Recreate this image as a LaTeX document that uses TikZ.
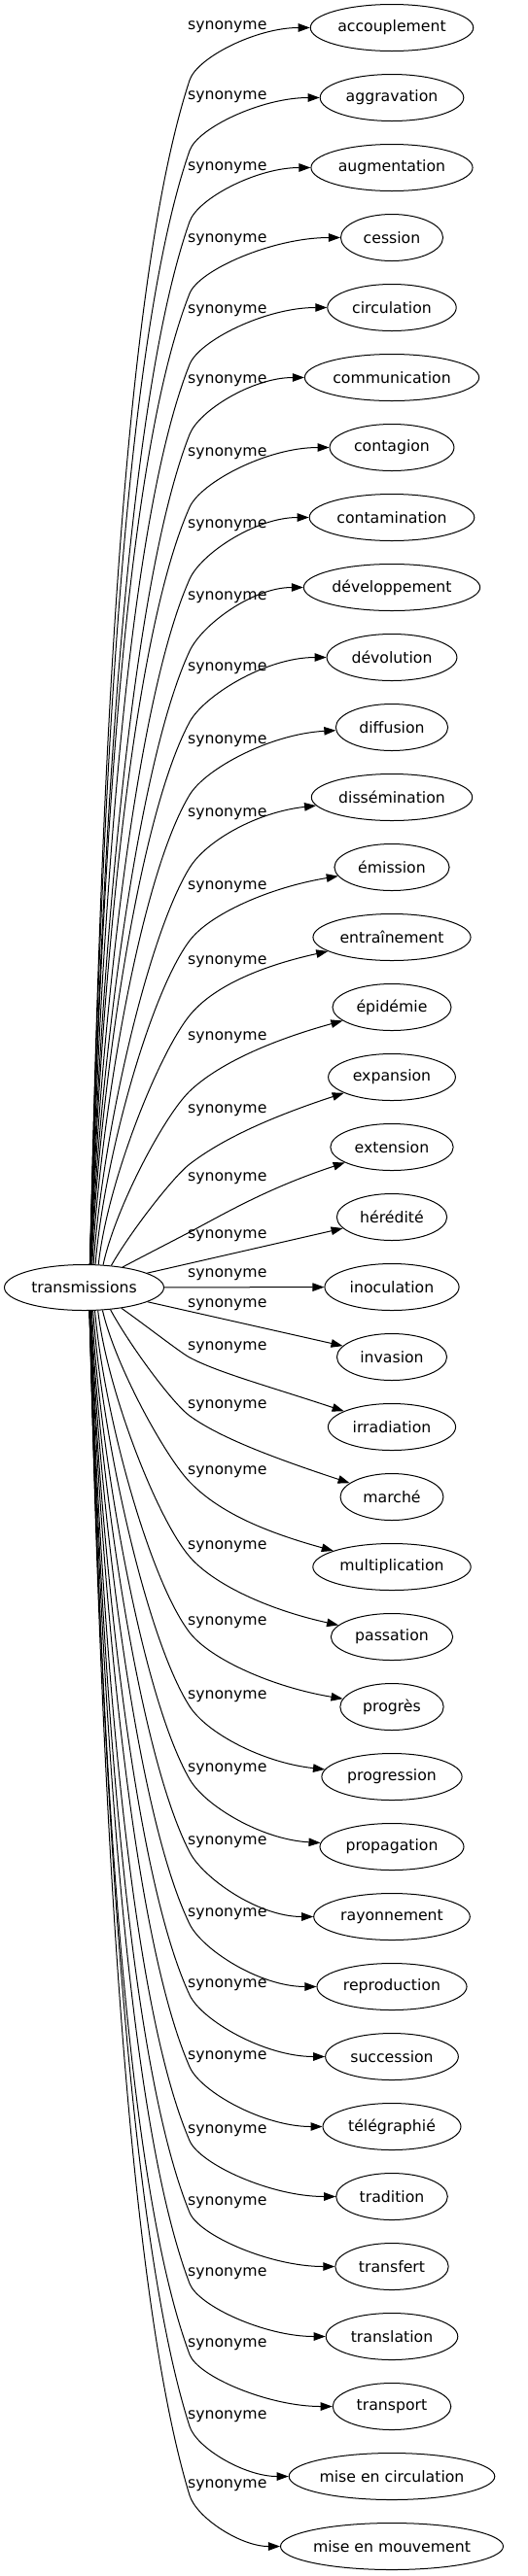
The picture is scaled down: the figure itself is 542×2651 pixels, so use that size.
\documentclass[tikz,border=0pt]{standalone}
\usepackage{fontspec}
\setmainfont{DejaVu Sans}
\usetikzlibrary{shapes.geometric,arrows.meta}
\begin{document}
\begin{tikzpicture}[x=1pt,y=-1pt,
  every node/.style={font=\fontsize{15.7}{18}\selectfont},
  word/.style={ellipse,draw,line width=1pt,inner sep=0pt,minimum height=48pt},
  lab/.style={anchor=west,inner sep=0pt},
  edge/.style={line width=1pt,-{Triangle[length=12pt,width=8.5pt]}}]
\fontsize{15.7}{18}\selectfont
\useasboundingbox (0,0) rectangle (542,2651);
\pgfmathsetmacro\sw{1.18*width("transmissions")+36}
\node[word,minimum width=\sw,minimum height=47pt] (s) at (86.5,1325) {transmissions};
\foreach \i/\nm/\ly in {0/accouplement/27.5, 1/aggravation/100, 2/augmentation/173,
  3/cession/247, 4/circulation/320, 5/communication/392, 6/contagion/467,
  7/contamination/541, 8/développement/615, 9/dévolution/688, 10/diffusion/763,
  11/dissémination/838, 12/émission/913, 13/entraînement/990, 14/épidémie/1068,
  15/expansion/1143, 16/extension/1213, 17/hérédité/1272, 18/inoculation/1312,
  19/invasion/1343, 20/irradiation/1387, 21/marché/1447, 22/multiplication/1515,
  23/passation/1592, 24/progrès/1670, 25/progression/1746, 26/propagation/1821,
  27/rayonnement/1896, 28/reproduction/1970, 29/succession/2043, 30/télégraphié/2117,
  31/tradition/2193, 32/transfert/2267, 33/translation/2340, 34/transport/2413,
  35/mise en circulation/2487, 36/mise en mouvement/2558}{
  \pgfmathsetmacro\ty{28.5+72*\i}
  \pgfmathsetmacro\ew{1.18*width("\nm")+36}
  \node[word,minimum width=\ew] (t\i) at (403,\ty) {\nm};
  \node[lab] (l\i) at (193,\ly) {synonyme};
  \pgfmathtruncatemacro\k{abs(\i-18)}
  \ifnum\k<2
    \draw[edge] (s) -- (t\i);
  \else
    \pgfmathsetmacro\sg{(\i<18)*(-2)+1}
    \pgfmathsetmacro\xs{92+33*exp(-(\k-2)*0.45)}
    \pgfmathsetmacro\uu{(\xs-86.5)/81.5}
    \pgfmathsetmacro\dys{23.5*sqrt(1-\uu*\uu)}
    \pgfmathsetmacro\sy{1325+\sg*\dys}
    \pgfmathsetmacro\tha{atan2(\dys,\xs-86.5)}
    \pgfmathtruncatemacro\ang{(\sg<0)*\tha+(\sg>0)*(360-\tha)}
    \pgfmathsetmacro\ky{\ly+(\sg<0)*55+(\sg>0)*10}
    \pgfmathsetmacro\dD{abs(\sy-\ky)}
    \pgfmathsetmacro\ff{max(0.3,min(1,80/\dD))}
    \pgfmathsetmacro\cax{\xs+0.33*(195-\xs)*\ff}
    \pgfmathsetmacro\cay{\sy+0.33*(\ky-\sy)}
    \pgfmathsetmacro\wx{403-\ew/2}
    \pgfmathsetmacro\slo{(\wx-\xs)/abs(\ty-\sy)+0.15}
    \pgfmathsetmacro\nn{sqrt(\slo*\slo+1)}
    \pgfmathsetmacro\tx{\slo/\nn}
    \pgfmathsetmacro\tyy{\sg/\nn}
    \pgfmathsetmacro\cbx{195-\tx*0.2*\dD}
    \pgfmathsetmacro\cby{\ky-\tyy*0.2*\dD}
    \pgfmathsetmacro\dd{0.45*abs(\ky-\ty)}
    \pgfmathsetmacro\ccx{195+\tx*\dd}
    \pgfmathsetmacro\ccy{\ky+\tyy*\dd}
    \pgfmathsetmacro\cdx{\wx-0.45*(\wx-195)}
    \pgfmathsetmacro\sk{0.33*min(1,max(0,(9-\k)/6))}
    \pgfmathsetmacro\cdy{\ty-\sg*\sk*(403-\cdx)}
    \draw[edge] (s.\ang) .. controls (\cax,\cay) and (\cbx,\cby) .. (195,\ky)
      .. controls (\ccx,\ccy) and (\cdx,\cdy) .. (t\i);
  \fi
}
\end{tikzpicture}
\end{document}
